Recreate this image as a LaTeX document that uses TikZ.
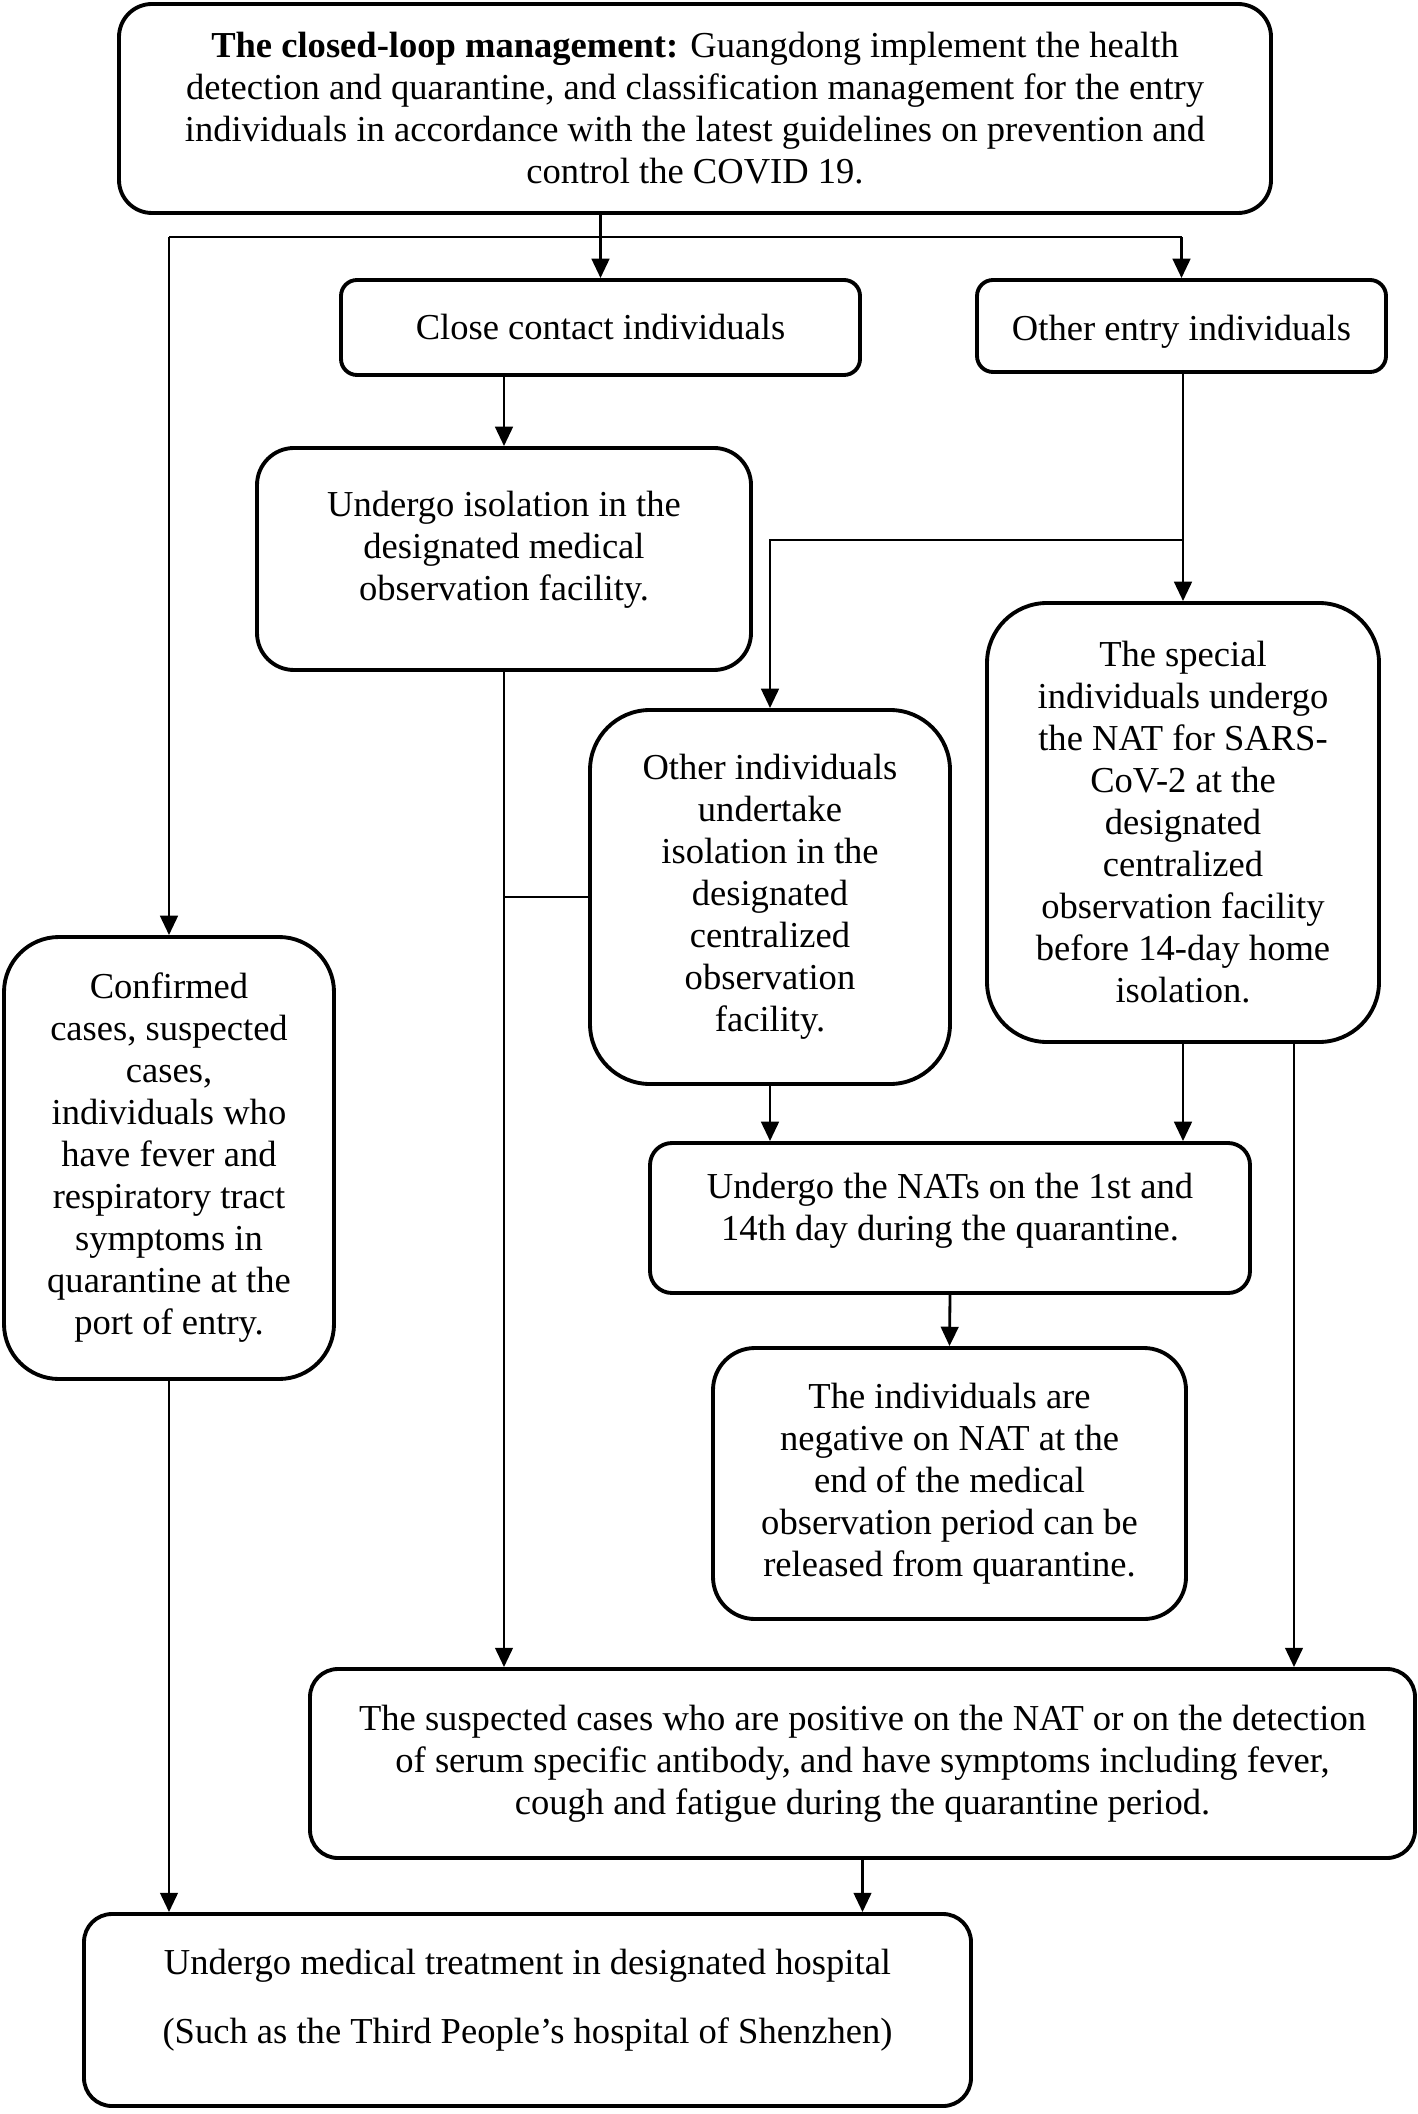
\documentclass[tikz,border=0pt]{standalone}
\usepackage{fontspec}
\setmainfont{Liberation Serif}
\usetikzlibrary{arrows.meta}

\begin{document}
\begin{tikzpicture}[
    box/.style={draw, line width=1.1pt, align=center, inner sep=0pt,
        font=\fontsize{10.4}{11.95}\selectfont},
    link/.style={line width=0.8pt},
    arrow/.style={link, -{Triangle[length=5.5pt,width=5pt]}}
]
    \useasboundingbox (0,0) rectangle (14.18,-21.14);

    % nodes (boxes)
    \node[box, rounded corners=0.33cm, minimum width=11.52cm, minimum height=2.09cm] (closedloop) at (6.95,-1.085)
        {\textbf{The closed-loop management:} Guangdong implement the health\\
         detection and quarantine, and classification management for the entry\\
         individuals in accordance with the latest guidelines on prevention and\\
         control the COVID 19.};
    \node[box, rounded corners=0.16cm, minimum width=5.19cm, minimum height=0.95cm] (closecontact) at (6.005,-3.275)
        {Close contact individuals};
    \node[box, rounded corners=0.16cm, minimum width=4.09cm, minimum height=0.92cm,
          text height=8pt, text depth=0pt] (otherentry) at (11.815,-3.26)
        {Other entry individuals};
    \node[box, rounded corners=0.37cm, minimum width=4.94cm, minimum height=2.22cm,
          text height=31.1pt, text depth=7.7pt] (isolation) at (5.04,-5.59)
        {Undergo isolation in the\\ designated medical\\ observation facility.};
    \node[box, rounded corners=0.6cm, minimum width=3.92cm, minimum height=4.39cm] (special) at (11.83,-8.225)
        {The special\\ individuals undergo\\ the NAT for SARS-\\ CoV-2 at the\\ designated\\ centralized\\
         observation facility\\ before 14-day home\\ isolation.};
    \node[box, rounded corners=0.6cm, minimum width=3.60cm, minimum height=3.74cm] (otherind) at (7.70,-8.97)
        {Other individuals\\ undertake\\ isolation in the\\ designated\\ centralized\\ observation\\ facility.};
    \node[box, rounded corners=0.55cm, minimum width=3.30cm, minimum height=4.42cm] (confirmed) at (1.69,-11.58)
        {Confirmed\\ cases, suspected\\ cases,\\ individuals who\\ have fever and\\ respiratory tract\\
         symptoms in\\ quarantine at the\\ port of entry.};
    \node[box, rounded corners=0.22cm, minimum width=6.00cm, minimum height=1.50cm,
          text height=19.15pt, text depth=6.1pt] (nats) at (9.50,-12.18)
        {Undergo the NATs on the 1st and\\ 14th day during the quarantine.};
    \node[box, rounded corners=0.42cm, minimum width=4.73cm, minimum height=2.71cm] (negative) at (9.495,-14.835)
        {The individuals are\\ negative on NAT at the\\ end of the medical\\ observation period can be\\
         released from quarantine.};
    \node[box, rounded corners=0.28cm, minimum width=11.05cm, minimum height=1.89cm] (suspected) at (8.625,-17.635)
        {The suspected cases who are positive on the NAT or on the detection\\
         of serum specific antibody, and have symptoms including fever,\\
         cough and fatigue during the quarantine period.};
    \node[box, rounded corners=0.28cm, minimum width=8.87cm, minimum height=1.92cm,
          text height=26.85pt, text depth=7.7pt] (hospital) at (5.275,-20.10)
        {Undergo medical treatment in designated hospital\\[7.7pt]
         (Such as the Third People’s hospital of Shenzhen)};

    % junctions
    \coordinate (fork) at (6.00,-2.37);
    \coordinate (branch) at (11.84,-5.40);

    % edges
    \draw[link] (closecontact.north |- closedloop.south) -- (closecontact.north |- fork); % closed-loop -> fork
    \draw[link] (confirmed.north |- fork) -- (otherentry.north |- fork); % fork line
    \draw[arrow] (closecontact.north |- fork) -- (closecontact.north); % fork -> close contact
    \draw[arrow] (otherentry.north |- fork) -- (otherentry.north); % fork -> other entry
    \draw[arrow] (confirmed.north |- fork) -- (confirmed.north); % fork -> confirmed
    \draw[arrow] (isolation.north |- closecontact.south) -- (isolation.north); % close contact -> isolation
    \draw[arrow] (special.north |- otherentry.south) -- (special.north); % other entry -> special
    \draw[arrow] (special.north |- branch) -| (otherind.north); % other entry -> other individuals
    \draw[arrow] (isolation.south) -- (isolation.south |- suspected.north); % isolation -> suspected
    \draw[link] (otherind.west) -- (otherind.west -| isolation.south); % other individuals -> suspected
    \draw[arrow] (otherind.south) -- (otherind.south |- nats.north); % other individuals -> NATs
    \draw[arrow] (special.south) -- (special.south |- nats.north); % special -> NATs
    \draw[arrow] ([xshift=1.11cm]special.south) -- ([xshift=1.11cm]special.south |- suspected.north); % special -> suspected
    \draw[arrow] (nats.south) -- (negative.north); % NATs -> negative
    \draw[arrow] (confirmed.south) -- (confirmed.south |- hospital.north); % confirmed -> hospital
    \draw[arrow] (suspected.south) -- (suspected.south |- hospital.north); % suspected -> hospital

\end{tikzpicture}
\end{document}
